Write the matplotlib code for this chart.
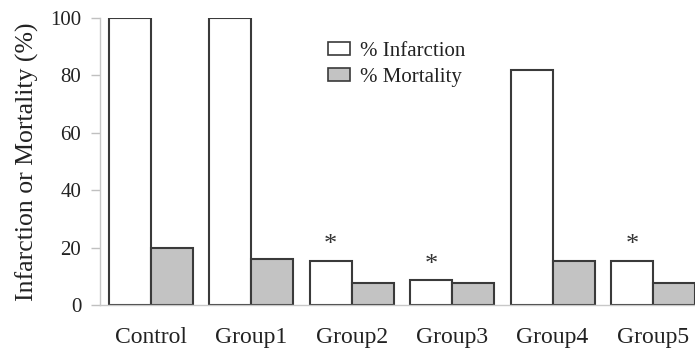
import matplotlib
matplotlib.use("Agg")
import matplotlib.pyplot as plt
import numpy as np
from matplotlib.patches import Patch

categories = ["Control", "Group1", "Group2", "Group3", "Group4", "Group5"]
infarction = [100, 100, 15.5, 8.7, 82, 15.5]
mortality = [20, 16, 7.5, 7.5, 15.5, 7.5]
significant = [False, False, True, True, False, True]
yticks = [0, 20, 40, 60, 80, 100]

plt.rcParams['font.family'] = ['Liberation Serif', 'DejaVu Serif']

fig = plt.figure(figsize=(6.95, 3.55), dpi=100)
ax = fig.add_axes([100/695, 50/355, 1 - 100/695, (305-18)/355])

x = np.arange(len(categories))
w = 0.418
edge = "#3a3a3a"
ax.bar(x - w/2, infarction, width=w, color="white", edgecolor=edge, linewidth=1.5, label="% Infarction")
ax.bar(x + w/2, mortality, width=w, color="#c3c3c3", edgecolor=edge, linewidth=1.5, label="% Mortality")

for xi, v, s in zip(x, infarction, significant):
    if s:
        ax.annotate("*", (xi - w/2, v), xytext=(0, 3), textcoords="offset points",
                    ha="center", va="bottom", fontsize=19, color="#333333")

ax.set_xlim(-0.503, 5.417)
ax.set_ylim(0, 100)
ax.set_yticks(yticks)
ax.set_xticks(x)
ax.set_xticklabels(categories, fontsize=17, color="#222222")
ax.tick_params(axis="x", length=0, pad=16)
ax.tick_params(axis="y", length=6.5, width=1, color="#c0c0c0", labelsize=15, pad=7,
               labelcolor="#222222")
ax.set_ylabel("Infarction or Mortality (%)", fontsize=18.5, labelpad=8, color="#222222")

for sp in ["top", "right"]:
    ax.spines[sp].set_visible(False)
for sp in ["left", "bottom"]:
    ax.spines[sp].set_color("#c8c8c8")
    ax.spines[sp].set_linewidth(1)

handles = [Patch(facecolor="white", edgecolor=edge, linewidth=1.2, label="% Infarction"),
           Patch(facecolor="#c3c3c3", edgecolor=edge, linewidth=1.2, label="% Mortality")]
ax.legend(handles=handles, loc="upper left", bbox_to_anchor=((328-100)/595, 1 - (42-18)/287),
          frameon=False, fontsize=15, handlelength=1.05, handleheight=0.55,
          handletextpad=0.5, labelspacing=0.32, borderaxespad=0, borderpad=0,
          labelcolor="#222222")

fig.savefig("out.png", dpi=100)
